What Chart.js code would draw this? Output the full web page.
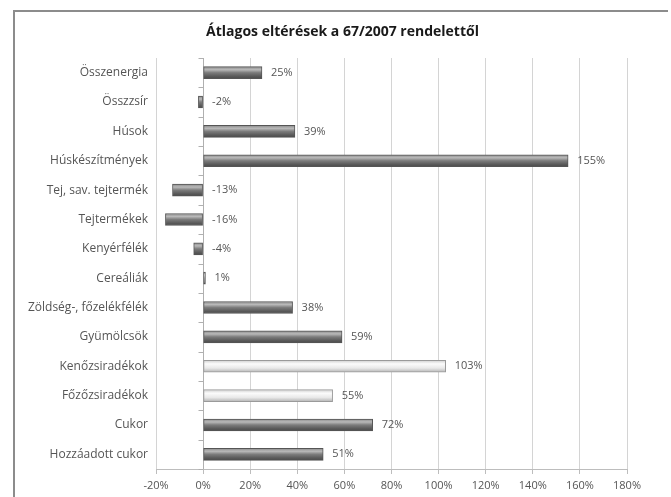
<!DOCTYPE html>
<html>
<head>
<meta charset="utf-8">
<script src="https://cdn.jsdelivr.net/npm/chart.js@4/dist/chart.umd.min.js"></script>
<style>
  html, body { margin: 0; padding: 0; background: #ffffff; }
  #wrap { width: 671px; height: 497px; position: relative; }
</style>
</head>
<body>
<div id="wrap"><canvas id="c" width="671" height="497"></canvas></div>
<script>
// Food groups compared against the 67/2007 decree
const categories = [
  'Összenergia', 'Összzsír', 'Húsok', 'Húskészítmények', 'Tej, sav. tejtermék',
  'Tejtermékek', 'Kenyérfélék', 'Cereáliák', 'Zöldség-, főzelékfélék', 'Gyümölcsök',
  'Kenőzsiradékok', 'Főzőzsiradékok', 'Cukor', 'Hozzáadott cukor'
];
// Average deviation, percent
const deviation = [25, -2, 39, 155, -13, -16, -4, 1, 38, 59, 103, 55, 72, 51];
// Fat groups are drawn in the light style
const lightStyle = [false, false, false, false, false, false, false, false, false, false, true, true, false, false];
const xTicks = [-20, 0, 20, 40, 60, 80, 100, 120, 140, 160, 180];
const chartTitle = 'Átlagos eltérések a 67/2007 rendelettől';

const FONT = '"Open Sans", "DejaVu Sans", sans-serif';
const BAR_H = 12;

function barFill(ctx) {
  const chart = ctx.chart;
  const ys = chart.scales && chart.scales.y;
  if (!chart.chartArea || !ys) return '#666';
  const yc = ys.getPixelForValue(ctx.dataIndex);
  const g = chart.ctx.createLinearGradient(0, yc - BAR_H / 2, 0, yc + BAR_H / 2);
  if (lightStyle[ctx.dataIndex]) {
    g.addColorStop(0, '#cfcfcf');
    g.addColorStop(0.3, '#fbfbfb');
    g.addColorStop(0.65, '#e9e9e9');
    g.addColorStop(1, '#b4b4b4');
  } else {
    g.addColorStop(0, '#8a8a8a');
    g.addColorStop(0.25, '#b9b9b9');
    g.addColorStop(0.5, '#7c7c7c');
    g.addColorStop(0.8, '#5a5a5a');
    g.addColorStop(1, '#4a4a4a');
  }
  return g;
}

// Frame around the chart object and the centred title
const framePlugin = {
  id: 'frame',
  beforeDraw(chart) {
    const c = chart.ctx;
    c.save();
    c.fillStyle = '#ffffff';
    c.fillRect(0, 0, chart.width, chart.height);
    c.strokeStyle = '#8c8c8c';
    c.lineWidth = 2;
    c.beginPath();
    c.moveTo(14, chart.height);
    c.lineTo(14, 11);
    c.lineTo(chart.width - 3, 11);
    c.stroke();
    c.font = 'bold 14px ' + FONT;
    c.fillStyle = '#1a1a1a';
    c.textAlign = 'center';
    c.textBaseline = 'middle';
    c.fillText(chartTitle, (14 + chart.width) / 2, 32);
    c.restore();
  }
};

// Category axis crossing at 0% with small tick marks between rows
const zeroAxisPlugin = {
  id: 'zeroAxis',
  beforeDatasetsDraw(chart) {
    const { ctx, scales: { x }, chartArea } = chart;
    const x0 = Math.round(x.getPixelForValue(0)) + 0.5;
    ctx.save();
    ctx.strokeStyle = '#b0b0b0';
    ctx.lineWidth = 1;
    ctx.beginPath();
    ctx.moveTo(x0, chartArea.top);
    ctx.lineTo(x0, chartArea.bottom);
    const step = (chartArea.bottom - chartArea.top) / categories.length;
    for (let i = 0; i <= categories.length; i++) {
      const yy = Math.round(chartArea.top + i * step) + 0.5;
      ctx.moveTo(x0 - 5, yy);
      ctx.lineTo(x0, yy);
    }
    ctx.stroke();
    ctx.restore();
  }
};

// Value labels right of each bar
const valueLabelPlugin = {
  id: 'valueLabels',
  afterDatasetsDraw(chart) {
    const { ctx, scales: { x, y } } = chart;
    ctx.save();
    ctx.font = '11px ' + FONT;
    ctx.fillStyle = '#555555';
    ctx.textBaseline = 'middle';
    ctx.textAlign = 'left';
    deviation.forEach((v, i) => {
      const px = x.getPixelForValue(Math.max(v, 0)) + 9;
      const py = y.getPixelForValue(i);
      ctx.fillText(v + '%', px, py);
    });
    ctx.restore();
  }
};

new Chart(document.getElementById('c'), {
  type: 'bar',
  data: {
    labels: categories,
    datasets: [{
      data: deviation,
      backgroundColor: barFill,
      borderColor: (ctx) => lightStyle[ctx.dataIndex] ? '#9a9a9a' : '#555555',
      borderWidth: 1,
      barThickness: BAR_H,
      borderSkipped: false
    }]
  },
  options: {
    indexAxis: 'y',
    responsive: false,
    animation: false,
    devicePixelRatio: 1,
    layout: { padding: { left: 14, top: 58, right: 44, bottom: 0 } },
    plugins: {
      legend: { display: false },
      tooltip: { enabled: false },
      title: { display: false }
    },
    scales: {
      x: {
        min: -20,
        max: 180,
        afterBuildTicks(scale) { scale.ticks = xTicks.map(v => ({ value: v })); },
        afterFit(scale) { scale.height = 28; },
        grid: { color: '#d4d4d4', tickLength: 5, drawTicks: true, tickColor: '#bdbdbd' },
        border: { color: '#bdbdbd' },
        ticks: {
          color: '#555555',
          font: { family: FONT, size: 11 },
          padding: 5,
          callback: (v) => v + '%',
          maxRotation: 0
        }
      },
      y: {
        afterFit(scale) { scale.width = 142; },
        grid: { display: false, drawTicks: false },
        border: { display: false },
        ticks: {
          color: '#555555',
          font: { family: FONT, size: 12 },
          padding: 8,
          autoSkip: false
        }
      }
    }
  },
  plugins: [framePlugin, zeroAxisPlugin, valueLabelPlugin]
});
</script>
</body>
</html>
